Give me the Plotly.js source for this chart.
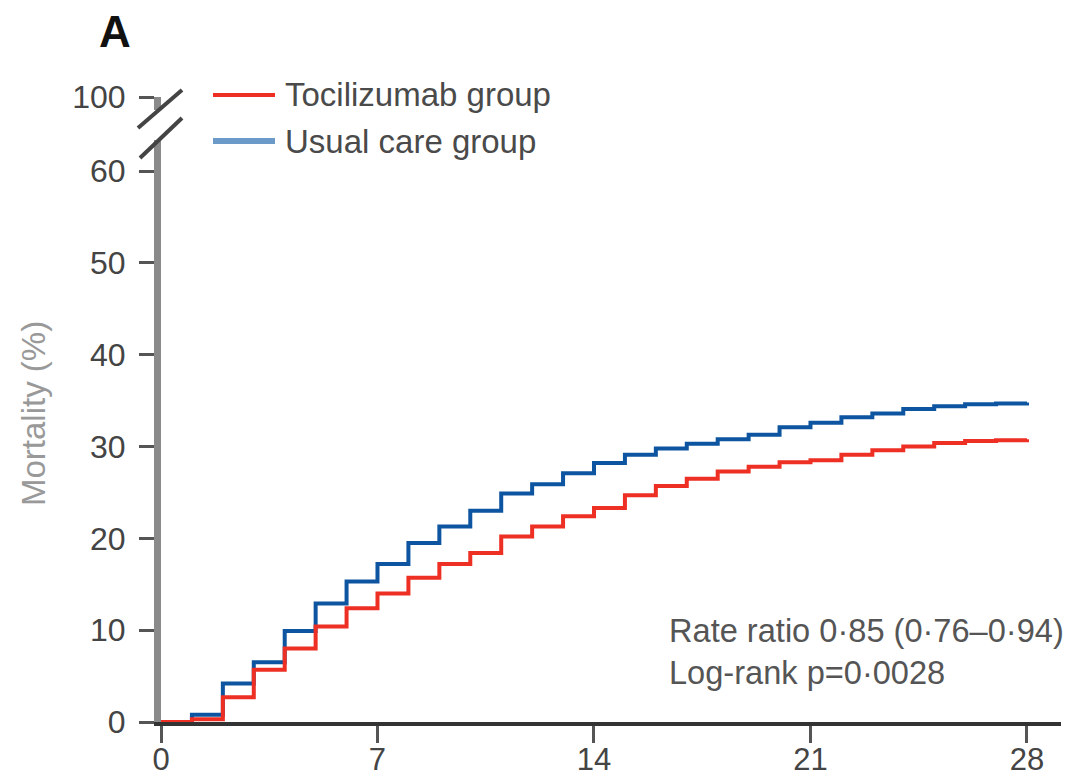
<!DOCTYPE html>
<html>
<head>
<meta charset="utf-8">
<script src="https://cdn.plot.ly/plotly-3.0.1.min.js"></script>
<style>html,body{margin:0;padding:0;background:#fff;}#chart{width:1068px;height:777px;}</style>
</head>
<body>
<div id="chart"></div>
<script>
// Day since randomisation
const days = [0,1,2,3,4,5,6,7,8,9,10,11,12,13,14,15,16,17,18,19,20,21,22,23,24,25,26,27,28];
// Cumulative mortality (%)
const tocilizumab = [0,0.3,2.7,5.7,8.0,10.4,12.4,14.0,15.7,17.2,18.4,20.2,21.3,22.4,23.3,24.7,25.7,26.5,27.3,27.8,28.3,28.5,29.1,29.6,30.0,30.4,30.6,30.7,30.8];
const usualCare   = [0,0.8,4.2,6.5,9.9,12.9,15.3,17.2,19.5,21.3,23.0,24.9,25.9,27.1,28.2,29.1,29.8,30.3,30.8,31.3,32.1,32.6,33.2,33.6,34.1,34.4,34.6,34.7,34.8];
const seriesNames = ["Tocilizumab group","Usual care group"];
const xTickVals = [0,7,14,21,28];
const yTickVals = [0,10,20,30,40,50,60,68.08];
const yTickText = ["0","10","20","30","40","50","60","100"];
const statsLines = ["Rate ratio 0·85 (0·76–0·94)","Log-rank p=0·0028"];

const FONT = '"Liberation Sans", Arial, sans-serif';
const RED = '#ee2f24', BLUE = '#0d55a0';

const traces = [
  {x: days, y: usualCare, name: seriesNames[1], mode: 'lines', line: {shape: 'hv', color: BLUE, width: 4}},
  {x: days, y: tocilizumab, name: seriesNames[0], mode: 'lines', line: {shape: 'hv', color: RED, width: 4}}
];

const px = v => (v - 161) / 900;   // pixel -> paper x
const py = v => (722 - v) / 625;   // pixel -> paper y

const layout = {
  width: 1068, height: 777,
  margin: {l: 161, r: 7, t: 97, b: 55},
  paper_bgcolor: '#fff', plot_bgcolor: '#fff',
  showlegend: false,
  font: {family: FONT, size: 32, color: '#444'},
  xaxis: {
    range: [0, 29.1], tickvals: xTickVals, ticktext: xTickVals.map(String),
    showgrid: false, zeroline: false, showline: true, linecolor: '#333', linewidth: 4,
    ticks: 'outside', ticklen: 17, tickwidth: 3, tickcolor: '#555',
    ticklabelstandoff: -10,
    tickfont: {family: FONT, size: 31, color: '#444'}
  },
  yaxis: {
    range: [0, 68.08], tickvals: yTickVals, ticktext: yTickText,
    showgrid: false, zeroline: false, showline: true, linecolor: '#8a8a8a', linewidth: 7,
    ticks: 'outside', ticklen: 15, tickwidth: 3, tickcolor: '#555',
    ticklabelstandoff: 7,
    tickfont: {family: FONT, size: 32, color: '#444'}
  },
  shapes: [
    // axis break gap
    {type: 'rect', xref: 'paper', yref: 'paper', x0: px(150), x1: px(170), y0: py(140), y1: py(110), fillcolor: '#fff', line: {width: 0}, layer: 'above'},
    {type: 'line', xref: 'paper', yref: 'paper', x0: px(138), y0: py(128), x1: px(182), y1: py(90), line: {color: '#444', width: 4}},
    {type: 'line', xref: 'paper', yref: 'paper', x0: px(140), y0: py(158), x1: px(182), y1: py(118), line: {color: '#444', width: 4}},
    // legend samples
    {type: 'line', xref: 'paper', yref: 'paper', x0: px(213), x1: px(275), y0: py(95), y1: py(95), line: {color: RED, width: 4}},
    {type: 'line', xref: 'paper', yref: 'paper', x0: px(213), x1: px(275), y0: py(141), y1: py(141), line: {color: '#6b9ac8', width: 6}}
  ],
  annotations: [
    {text: '<b>A</b>', xref: 'paper', yref: 'paper', x: px(115), y: py(31), xanchor: 'center', yanchor: 'middle', showarrow: false, font: {family: FONT, size: 44, color: '#111'}},
    {text: seriesNames[0], xref: 'paper', yref: 'paper', x: px(283), y: py(95), xanchor: 'left', yanchor: 'middle', showarrow: false, font: {family: FONT, size: 33, color: '#4a4a4a'}},
    {text: seriesNames[1], xref: 'paper', yref: 'paper', x: px(283), y: py(141), xanchor: 'left', yanchor: 'middle', showarrow: false, font: {family: FONT, size: 33, color: '#4a4a4a'}},
    {text: 'Mortality (%)', xref: 'paper', yref: 'paper', x: px(33), y: py(414), textangle: -90, xanchor: 'center', yanchor: 'middle', showarrow: false, font: {family: FONT, size: 33, color: '#999'}},
    {text: statsLines[0], xref: 'paper', yref: 'paper', x: px(667), y: py(630), xanchor: 'left', yanchor: 'middle', showarrow: false, font: {family: FONT, size: 32.6, color: '#555'}},
    {text: statsLines[1], xref: 'paper', yref: 'paper', x: px(667), y: py(672), xanchor: 'left', yanchor: 'middle', showarrow: false, font: {family: FONT, size: 32.6, color: '#555'}}
  ]
};

Plotly.newPlot('chart', traces, layout, {staticPlot: true, displayModeBar: false});
</script>
</body>
</html>
